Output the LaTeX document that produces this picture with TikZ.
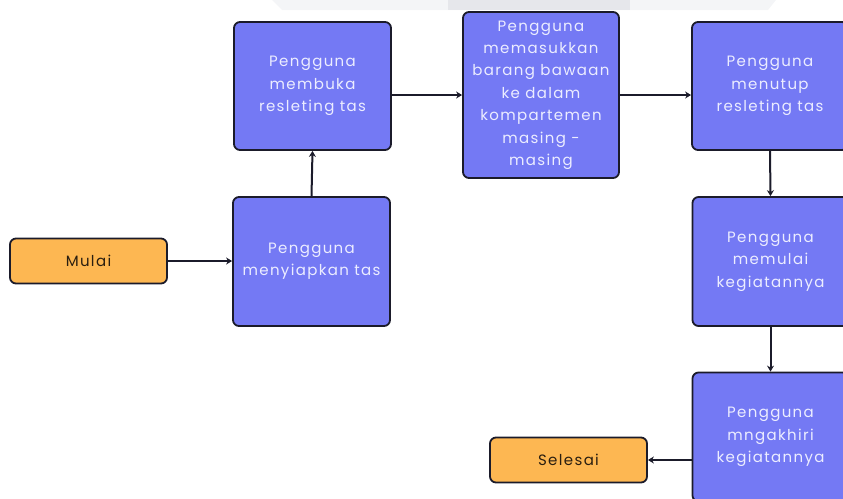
\documentclass[tikz,border=0pt]{standalone}
\usepackage{fontspec}
\setmainfont{Poppins}[LetterSpace=9]
\usetikzlibrary{arrows.meta}
\definecolor{boxblue}{HTML}{7479F4}
\definecolor{boxorange}{HTML}{FDB752}
\definecolor{edgedark}{HTML}{1B1B2A}
\definecolor{txtlight}{HTML}{ECEDFF}
\definecolor{txtdark}{HTML}{2A1E10}
\definecolor{bandlight}{HTML}{F4F5F7}
\definecolor{banddark}{HTML}{E6E7EB}
\tikzset{
  x=1pt,y=1pt,
  procbox/.style={draw=edgedark,line width=1.8pt,fill=boxblue,rounded corners=6pt,
    text=txtlight,align=center,font=\fontsize{15}{22.4}\selectfont,inner sep=2pt},
  termbox/.style={draw=edgedark,line width=1.8pt,fill=boxorange,rounded corners=6pt,
    text=txtdark,align=center,font=\fontsize{15}{22}\selectfont,
    minimum width=157pt,minimum height=45pt},
  conn/.style={draw=edgedark,line width=2pt,-{Stealth[length=6pt,width=7pt]}}
}
\begin{document}
\begin{tikzpicture}
\useasboundingbox (0,0) rectangle (843,-498);
\clip (0,0) rectangle (843,-498);
% faint top band
\fill[bandlight] (272,0) -- (776,0) -- (768,-10) -- (282,-10) -- cycle;
\fill[banddark] (448,0) rectangle (630,-10);
% nodes
\node[termbox] (mulai) at (88.5,-261) {Mulai};
\node[procbox,minimum width=157pt,minimum height=129pt] (siap) at (311.5,-261.5) {Pengguna\\menyiapkan tas};
\node[procbox,minimum width=157pt,minimum height=128pt] (buka) at (312.5,-86) {Pengguna\\membuka\\resleting tas};
\node[procbox,minimum width=156pt,minimum height=166pt] (masuk) at (541,-95) {Pengguna\\memasukkan\\barang bawaan\\ke dalam\\kompartemen\\masing -\\masing};
\node[procbox,minimum width=156pt,minimum height=128pt] (tutup) at (770,-86) {Pengguna\\menutup\\resleting tas};
\node[procbox,minimum width=156pt,minimum height=129pt] (mulaik) at (770.5,-261.5) {Pengguna\\memulai\\kegiatannya};
\node[procbox,minimum width=156pt,minimum height=129pt] (akhir) at (770.5,-437) {Pengguna\\mngakhiri\\kegiatannya};
\node[termbox] (selesai) at (568.5,-460) {Selesai};
% connectors
\draw[conn] (mulai.east) -- (siap.west |- mulai.east);
\draw[conn] (siap.north) -- (buka.south);
\draw[conn] (buka.east |- masuk.west) -- (masuk.west);
\draw[conn] (masuk.east) -- (masuk.east -| tutup.west);
\draw[conn] (tutup.south) -- (mulaik.north);
\draw[conn] (mulaik.south) -- (akhir.north);
\draw[conn] (selesai.east -| akhir.west) -- (selesai.east);
\end{tikzpicture}
\end{document}
